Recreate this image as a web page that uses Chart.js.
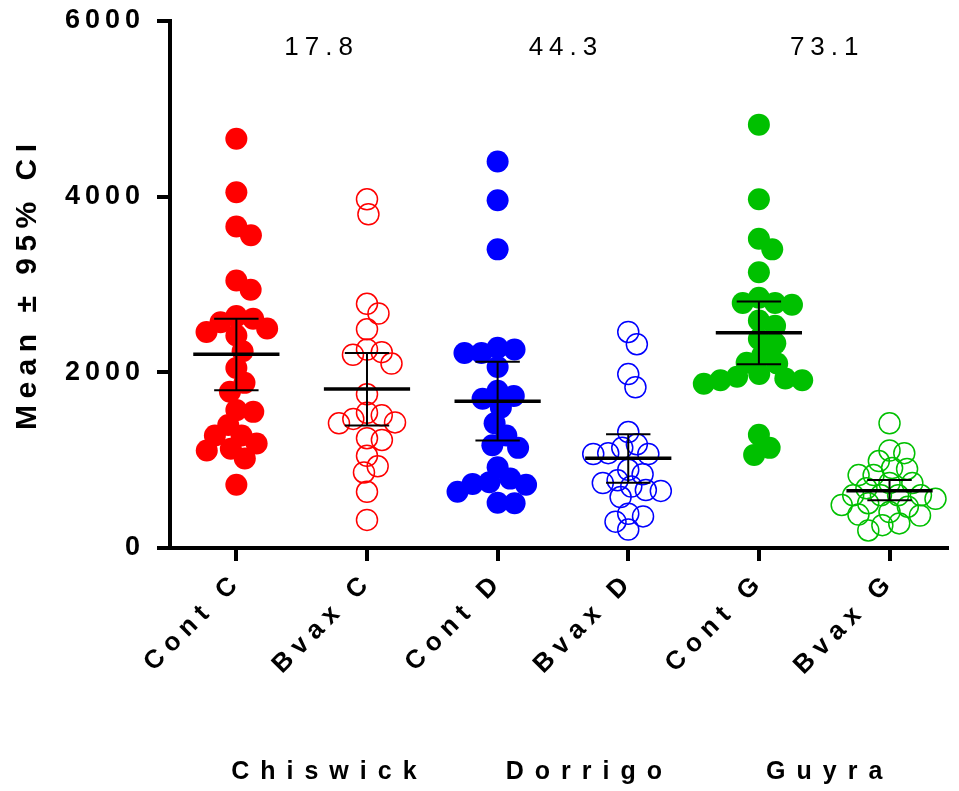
<!DOCTYPE html>
<html>
<head>
<meta charset="utf-8">
<script src="https://cdn.jsdelivr.net/npm/chart.js@4/dist/chart.umd.min.js"></script>
<style>
  html, body { margin: 0; padding: 0; background: #fff; }
  #chart { display: block; }
</style>
</head>
<body>
<canvas id="chart" width="959" height="791"></canvas>
<script>
const categories = ['Cont C', 'Bvax C', 'Cont D', 'Bvax D', 'Cont G', 'Bvax G'];
const sites = ['Chiswick', 'Dorrigo', 'Guyra'];
const siteLabelPos = [1.67, 3.66, 5.5];
const pairValues = ['17.8', '44.3', '73.1'];
const pairPos = [1.63, 3.5, 5.5];
const pairLabelY = 5690;

const contC = [4660, 4050, 3660, 3560, 3045, 2940, 2640, 2610, 2570, 2500, 2460, 2420, 2240, 2050, 1880, 1780, 1570, 1550, 1400, 1280, 1280, 1190, 1130, 1110, 1020, 720];
const bvaxC = [3970, 3800, 2780, 2670, 2490, 2260, 2230, 2200, 2100, 1750, 1540, 1510, 1470, 1430, 1420, 1250, 1230, 1050, 930, 860, 640, 320];
const contD = [4400, 3960, 3400, 2280, 2260, 2220, 2220, 2060, 1790, 1730, 1700, 1600, 1420, 1280, 1170, 1140, 920, 790, 750, 730, 720, 640, 515, 510];
const bvaxD = [2460, 2320, 1980, 1830, 1320, 1180, 1140, 1080, 1070, 1070, 890, 840, 770, 740, 700, 660, 650, 580, 390, 360, 300, 210];
const contG = [4820, 3970, 3520, 3400, 3140, 2850, 2790, 2790, 2770, 2590, 2530, 2380, 2330, 2190, 2110, 2100, 1980, 1950, 1930, 1910, 1910, 1870, 1290, 1140, 1060];
const bvaxG = [1420, 1110, 1080, 990, 910, 900, 830, 830, 740, 740, 680, 600, 600, 600, 600, 560, 510, 490, 470, 410, 380, 370, 280, 260, 200];

const means = [2205, 1811, 1670, 1023, 2451, 652];
const ciLow = [1795, 1394, 1223, 742, 2091, 545];
const ciHigh = [2610, 2220, 2121, 1295, 2807, 773];

const yTicks = [0, 2000, 4000, 6000];
const groupColors = ['#ff0000', '#ff0000', '#0000ff', '#0000ff', '#00c000', '#00c000'];
const groupFilled = [true, false, true, false, true, false];
const groups = [contC, bvaxC, contD, bvaxD, contG, bvaxG];

const FONT = '"Liberation Sans", Arial, sans-serif';

// spaced-out text like the original GraphPad export
function spacedText(ctx, text, x, y, font, spacing, align, rot) {
    ctx.save();
    ctx.font = font;
    ctx.letterSpacing = spacing + 'px';
    ctx.fillStyle = '#000';
    ctx.translate(x, y);
    if (rot) ctx.rotate(rot);
    const w = ctx.measureText(text).width - spacing;
    let sx = 0;
    if (align === 'center') sx = -w / 2;
    else if (align === 'right') sx = -w;
    ctx.textAlign = 'left';
    ctx.textBaseline = 'middle';
    ctx.fillText(text, sx, 0);
    ctx.restore();
}

const extras = {
    id: 'extras',
    beforeLayout(chart) { chart.ctx.letterSpacing = '5px'; },
    beforeDraw(chart) { chart.ctx.letterSpacing = '5px'; },
    afterDatasetsDraw(chart) {
        const ctx = chart.ctx;
        const xs = chart.scales.x, ys = chart.scales.y;
        const unit = xs.getPixelForValue(2) - xs.getPixelForValue(1);
        ctx.save();
        ctx.strokeStyle = '#000';
        means.forEach((m, i) => {
            const cx = xs.getPixelForValue(i + 1);
            const yl = ys.getPixelForValue(ciLow[i]);
            const yh = ys.getPixelForValue(ciHigh[i]);
            ctx.lineWidth = 2;
            ctx.beginPath();
            ctx.moveTo(cx, yl); ctx.lineTo(cx, yh);
            ctx.moveTo(cx - unit * 0.17, yl); ctx.lineTo(cx + unit * 0.17, yl);
            ctx.moveTo(cx - unit * 0.17, yh); ctx.lineTo(cx + unit * 0.17, yh);
            ctx.stroke();
            ctx.lineWidth = 3.5;
            ctx.beginPath();
            const ym = ys.getPixelForValue(m);
            ctx.moveTo(cx - unit * 0.33, ym); ctx.lineTo(cx + unit * 0.33, ym);
            ctx.stroke();
        });
        ctx.restore();
    },
    afterDraw(chart) {
        const ctx = chart.ctx;
        const xs = chart.scales.x, ys = chart.scales.y;
        // rotated category labels
        categories.forEach((c, i) => {
            const x = xs.getPixelForValue(i + 1);
            spacedText(ctx, c, x - 3, chart.chartArea.bottom + 34, 'bold 26px ' + FONT, 7, 'right', -Math.PI / 4);
        });
        sites.forEach((s, i) => {
            spacedText(ctx, s, xs.getPixelForValue(siteLabelPos[i]), 772, 'bold 25px ' + FONT, 11, 'center');
        });
        pairValues.forEach((p, i) => {
            spacedText(ctx, p, xs.getPixelForValue(pairPos[i]), ys.getPixelForValue(pairLabelY), '26px ' + FONT, 6, 'center');
        });
        spacedText(ctx, 'Mean ± 95% CI', 28, 287, 'bold 30px ' + FONT, 6.5, 'center', -Math.PI / 2);
    }
};

const datasets = groups.map((vals, i) => ({
    data: vals.map(v => ({ x: i + 1, y: v })),
    pointRadius: groupFilled[i] ? 11 : 10.5,
    pointBorderWidth: groupFilled[i] ? 0 : 1.5,
    pointBackgroundColor: groupFilled[i] ? groupColors[i] : 'rgba(255,255,255,0)',
    pointBorderColor: groupColors[i],
    showLine: false
}));

const chart = new Chart(document.getElementById('chart'), {
    type: 'scatter',
    data: { datasets },
    plugins: [extras],
    options: {
        responsive: false,
        animation: false,
        layout: { padding: { top: 21, right: 4, left: 0, bottom: 0 } },
        plugins: { legend: { display: false }, tooltip: { enabled: false } },
        scales: {
            x: {
                type: 'linear',
                min: 0.492,
                max: 6.44,
                afterBuildTicks: s => { s.ticks = categories.map((_, i) => ({ value: i + 1 })); },
                afterFit: s => { s.height = 243; s.paddingLeft = 0; s.paddingRight = 0; },
                ticks: { display: false },
                grid: { drawOnChartArea: false, drawTicks: true, tickLength: 13, color: '#000', lineWidth: 4 },
                border: { color: '#000', width: 4 }
            },
            y: {
                min: 0,
                max: 6000,
                afterBuildTicks: s => { s.ticks = yTicks.map(v => ({ value: v })); },
                afterFit: s => { s.width = 170; s.paddingTop = 0; s.paddingBottom = 0; },
                ticks: {
                    color: '#000',
                    font: { family: FONT, size: 27, weight: 'bold' },
                    padding: 12,
                    callback: v => String(v)
                },
                grid: { drawOnChartArea: false, drawTicks: true, tickLength: 13, color: '#000', lineWidth: 4 },
                border: { color: '#000', width: 4 }
            }
        }
    }
});

// beeswarm offsets computed in pixel space, then converted back to x units
function swarm(vals, D) {
    const ys = chart.scales.y;
    const placed = [];
    const offs = new Array(vals.length);
    const order = vals.map((v, i) => i).sort((a, b) => vals[b] - vals[a]);
    order.forEach(i => {
        const y = ys.getPixelForValue(vals[i]);
        const near = placed.filter(p => Math.abs(p.y - y) < D);
        const cands = [0];
        near.forEach(p => {
            const dx = Math.sqrt(D * D - (p.y - y) ** 2);
            cands.push(p.x + dx, p.x - dx);
        });
        cands.sort((a, b) => Math.abs(a) - Math.abs(b));
        const ok = cands.find(c => near.every(p => (p.x - c) ** 2 + (p.y - y) ** 2 >= D * D - 0.01));
        placed.push({ x: ok, y });
        offs[i] = ok;
    });
    return offs;
}

const xs = chart.scales.x;
const pxUnit = xs.getPixelForValue(2) - xs.getPixelForValue(1);
groups.forEach((vals, i) => {
    const offs = swarm(vals, groupFilled[i] ? 17 : 15);
    chart.data.datasets[i].data = vals.map((v, k) => ({ x: i + 1 + offs[k] / pxUnit, y: v }));
});
chart.update('none');
</script>
</body>
</html>
